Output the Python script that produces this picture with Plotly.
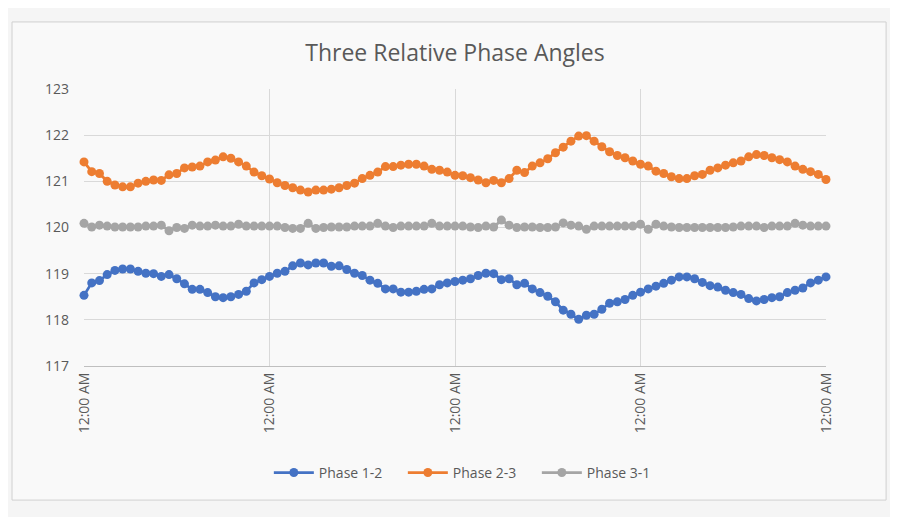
import pandas as pd
import plotly.graph_objects as go

# ── Datos ─────────────────────────────────────────────────────────────────────

START = "2021-01-01 00:00"
N_HOURS = 97

phase_12 = [
    118.53, 118.80, 118.85, 118.98, 119.07, 119.10, 119.10, 119.05, 119.01, 119.00,
    118.94, 118.98, 118.89, 118.78, 118.66, 118.66, 118.59, 118.50, 118.48, 118.50,
    118.55, 118.62, 118.80, 118.87, 118.94, 119.01, 119.05, 119.17, 119.23, 119.19,
    119.23, 119.23, 119.16, 119.17, 119.09, 119.01, 118.96, 118.86, 118.79, 118.67,
    118.67, 118.60, 118.60, 118.62, 118.66, 118.67, 118.76, 118.80, 118.83, 118.86,
    118.89, 118.96, 119.01, 119.00, 118.87, 118.89, 118.76, 118.79, 118.67, 118.59,
    118.51, 118.39, 118.21, 118.12, 118.01, 118.10, 118.12, 118.23, 118.36, 118.39,
    118.44, 118.53, 118.60, 118.67, 118.73, 118.79, 118.86, 118.93, 118.93, 118.89,
    118.81, 118.74, 118.71, 118.64, 118.59, 118.55, 118.46, 118.41, 118.44, 118.48,
    118.50, 118.59, 118.64, 118.69, 118.80, 118.86, 118.93,
]

phase_23 = [
    121.42, 121.21, 121.17, 121.00, 120.92, 120.88, 120.88, 120.96, 121.00, 121.03,
    121.02, 121.14, 121.17, 121.29, 121.31, 121.33, 121.42, 121.46, 121.53, 121.50,
    121.42, 121.33, 121.20, 121.12, 121.05, 120.97, 120.91, 120.86, 120.81, 120.77,
    120.81, 120.81, 120.83, 120.86, 120.91, 120.96, 121.06, 121.13, 121.20, 121.32,
    121.32, 121.35, 121.37, 121.37, 121.33, 121.26, 121.24, 121.20, 121.13, 121.12,
    121.08, 121.03, 120.97, 121.02, 120.97, 121.06, 121.24, 121.19, 121.33, 121.40,
    121.49, 121.62, 121.74, 121.87, 121.98, 121.99, 121.87, 121.75, 121.64, 121.56,
    121.51, 121.44, 121.37, 121.33, 121.22, 121.17, 121.10, 121.06, 121.06, 121.12,
    121.15, 121.24, 121.29, 121.35, 121.40, 121.44, 121.53, 121.58, 121.56, 121.51,
    121.47, 121.42, 121.33, 121.26, 121.21, 121.15, 121.04,
]

phase_31 = [
    120.09, 120.01, 120.05, 120.03, 120.01, 120.01, 120.01, 120.01, 120.03, 120.03,
    120.05, 119.93, 120.00, 119.98, 120.05, 120.03, 120.03, 120.05, 120.03, 120.03,
    120.07, 120.03, 120.03, 120.03, 120.03, 120.03, 120.00, 119.98, 119.98, 120.09,
    119.98, 120.00, 120.01, 120.01, 120.01, 120.03, 120.03, 120.03, 120.09, 120.03,
    120.00, 120.03, 120.03, 120.03, 120.03, 120.09, 120.03, 120.03, 120.03, 120.03,
    120.01, 120.00, 120.03, 120.01, 120.16, 120.05, 120.00, 120.01, 120.01, 120.00,
    120.00, 120.01, 120.10, 120.05, 120.03, 119.96, 120.03, 120.03, 120.03, 120.03,
    120.03, 120.03, 120.07, 119.96, 120.07, 120.03, 120.01, 120.00, 120.00, 120.00,
    120.00, 120.00, 120.00, 120.00, 120.01, 120.03, 120.03, 120.03, 120.00, 120.03,
    120.03, 120.03, 120.09, 120.05, 120.03, 120.03, 120.03,
]

SERIES = [
    ("Phase 1-2", phase_12, "#4472C4"),
    ("Phase 2-3", phase_23, "#ED7D31"),
    ("Phase 3-1", phase_31, "#A5A5A5"),
]

TEXT = "#595959"
GRID = "#d9d9d9"

# ── Figura ────────────────────────────────────────────────────────────────────

times = pd.date_range(START, periods=N_HOURS, freq="h")

fig = go.Figure()
for name, values, color in SERIES:
    fig.add_trace(go.Scatter(
        x=times, y=values,
        name=name,
        mode="lines+markers",
        line=dict(color=color, width=2.75),
        marker=dict(color=color, size=9),
        cliponaxis=False,
    ))

# la página deja 8px de margen: la figura se achica para caber en la ventana
fig.update_layout(
    width=890, height=509,
    paper_bgcolor="#f5f5f5",
    plot_bgcolor="#f9f9f9",
    font=dict(family="Open Sans, sans-serif", color=TEXT, size=14),
    margin=dict(l=76, r=72, t=81, b=151),
    title=dict(
        text="Three Relative Phase Angles",
        xref="paper", x=0.5, xanchor="center",
        y=0.912, yanchor="middle",
        font=dict(size=23, color=TEXT),
    ),
    legend=dict(
        orientation="h",
        x=0.52, xanchor="center",
        y=-0.386, yanchor="middle",
        bgcolor="rgba(0,0,0,0)",
        font=dict(size=14, color=TEXT),
        itemwidth=40,
        entrywidth=79,
    ),
    shapes=[dict(
        type="rect", xref="paper", yref="paper",
        x0=-0.097, x1=1.081, y0=-0.484, y1=1.242,
        line=dict(color="#d0d0d0", width=1),
        fillcolor="#f9f9f9", layer="below",
    )],
)

fig.update_xaxes(
    range=[times[0], times[-1]],
    dtick=86400000,
    tickformat="%I:%M %p",
    tickangle=-90,
    showgrid=True, gridcolor=GRID,
    showline=True, linecolor="#bfbfbf",
    ticks="", zeroline=False,
    tickfont=dict(size=14, color=TEXT),
)
fig.update_yaxes(
    range=[117, 123],
    dtick=1,
    showgrid=True, gridcolor=GRID,
    zeroline=False, ticks="",
    ticklabelstandoff=14,
    tickfont=dict(size=14, color=TEXT),
)

fig.write_html("out.html")
